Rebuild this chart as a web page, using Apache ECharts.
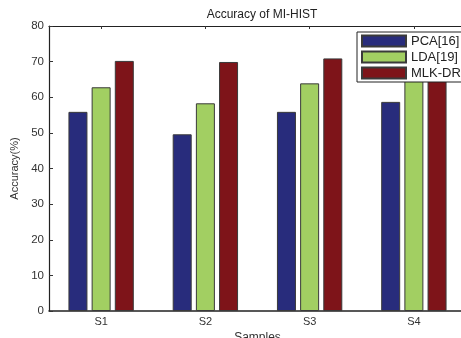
<!DOCTYPE html>
<html>
<head>
<meta charset="utf-8">
<script src="https://cdn.jsdelivr.net/npm/echarts@6/dist/echarts.min.js"></script>
<style>html,body{margin:0;padding:0;background:#fff}#c{width:461px;height:338px}</style>
</head>
<body>
<div id="c"></div>
<script>
const categories = ['S1', 'S2', 'S3', 'S4'];
const pcaValues = [55.9, 49.6, 55.9, 58.7];
const ldaValues = [62.8, 58.3, 63.9, 65.8];
const mlkValues = [70.2, 69.9, 70.9, 71.2];
const seriesNames = ['PCA[16]', 'LDA[19]', 'MLK-DR'];
const yTicks = { min: 0, max: 80, interval: 10 };

const font = 'Liberation Sans, Arial, Helvetica, sans-serif';
const colors = ['#282C7C', '#A2CF62', '#7E1419'];
const chart = echarts.init(document.getElementById('c'), null, { renderer: 'canvas' });
function bar(name, data, color) {
  return {
    name, type: 'bar', data, barWidth: 19, barGap: '22%',
    itemStyle: { color, borderColor: '#3a3a3a', borderWidth: 1 },
    emphasis: { disabled: true }
  };
}
chart.setOption({
  animation: false,
  textStyle: { fontFamily: font },
  title: {
    text: 'Accuracy of MI-HIST', left: 257, top: 4, textAlign: 'center',
    textStyle: { fontSize: 12, fontWeight: 'normal', color: '#222', fontFamily: font }
  },
  grid: { left: 49, top: 26, bottom: 27, right: -5, containLabel: false, outerBoundsMode: 'none' },
  legend: {
    orient: 'vertical', left: 357, top: 32, data: seriesNames,
    backgroundColor: '#fff', borderColor: '#222', borderWidth: 1,
    padding: [2, 60, 2, 4], itemWidth: 44, itemHeight: 11, itemGap: 2,
    textStyle: { fontSize: 13, color: '#222', fontFamily: font, lineHeight: 14 },
    icon: 'rect', z: 10
  },
  xAxis: [{
    type: 'category', data: categories, position: 'bottom',
    axisLine: { lineStyle: { color: '#222', width: 1.5 } },
    axisTick: { show: false },
    axisLabel: { fontSize: 11, color: '#333', margin: 5, fontFamily: font },
    name: 'Samples', nameLocation: 'middle', nameGap: 16,
    nameTextStyle: { fontSize: 12, color: '#333', fontFamily: font }
  }, {
    type: 'category', data: categories, position: 'top',
    axisLine: { lineStyle: { color: '#222', width: 1.2 } },
    axisTick: { show: true, inside: true, alignWithLabel: true, length: 3, lineStyle: { color: '#333' } },
    axisLabel: { show: false }
  }],
  yAxis: {
    type: 'value', min: yTicks.min, max: yTicks.max, interval: yTicks.interval,
    axisLine: { show: true, lineStyle: { color: '#222', width: 1.2 } },
    axisTick: { show: true, inside: true, length: 4, lineStyle: { color: '#333' } },
    splitLine: { show: false },
    axisLabel: { fontSize: 11.5, color: '#333', margin: 5, fontFamily: font },
    name: 'Accuracy(%)', nameLocation: 'middle', nameGap: 25, nameRotate: 90,
    nameTextStyle: { fontSize: 11, color: '#333', fontFamily: font }
  },
  series: [
    bar(seriesNames[0], pcaValues, colors[0]),
    bar(seriesNames[1], ldaValues, colors[1]),
    bar(seriesNames[2], mlkValues, colors[2])
  ]
});
</script>
</body>
</html>
